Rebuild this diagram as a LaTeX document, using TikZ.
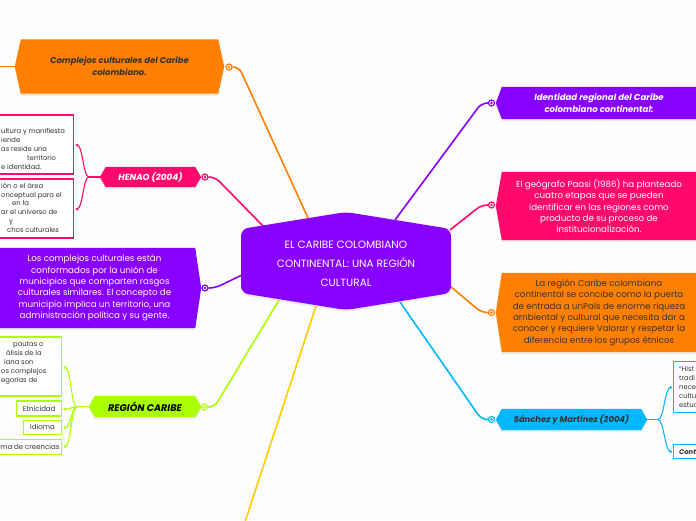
\documentclass[tikz,border=0pt]{standalone}
\usepackage{fontspec}
\setmainfont{Poppins}
\usepackage{tikz}
\usetikzlibrary{backgrounds, shadows}
\definecolor{mmpurple}{HTML}{8800FF}
\definecolor{mmpink}{HTML}{FF0A6C}
\definecolor{mmorange}{HTML}{FF8000}
\definecolor{mmlime}{HTML}{AAFF00}
\definecolor{mmyellow}{HTML}{FFCC00}
\definecolor{mmblue}{HTML}{00B8FF}
\definecolor{mmink}{HTML}{333333}
\definecolor{mmpaper}{HTML}{FDFDFD}

\newcommand{\hexfill}[2]{%
  \fill[#2, drop shadow={opacity=0.15, shadow xshift=0pt, shadow yshift=-2pt}]
    ([xshift=-6pt]#1.west) -- (#1.north west) -- (#1.north east)
    -- ([xshift=6pt]#1.east) -- (#1.south east) -- (#1.south west) -- cycle;}

\begin{document}
\begin{tikzpicture}[x=1pt, y=-1pt,
  font=\fontsize{8.7}{11.4}\selectfont,
  topic/.style={inner sep=0pt, align=center},
  knob/.style={circle, draw=#1, fill=white, line width=1.2pt, minimum size=6pt, inner sep=0pt,
    path picture={\fill[#1] (path picture bounding box.center) circle (1.3pt);}},
  joint/.style={circle, fill=#1, minimum size=3pt, inner sep=0pt},
  branch/.style={draw=#1, line width=1.6pt, rounded corners=6pt},
  twig/.style={draw=#1, line width=1.1pt},
  leaf/.style={draw=#1, fill=white, line width=1.1pt, inner sep=0pt, text=mmink, font=\fontsize{7}{8}\selectfont},
  leaftext/.style={inner sep=0pt, align=left, text=mmink, font=\fontsize{6.8}{8.9}\selectfont}
]
\useasboundingbox (0,0) rectangle (696,520);

\node[topic, text=white, font=\fontsize{10.6}{18.8}\selectfont] (root) at (346,263.8)
  {EL CARIBE COLOMBIANO\\CONTINENTAL: UNA REGIÓN\\CULTURAL};

% left side
\node[topic, minimum width=197pt, minimum height=54pt, text=mmink, font=\fontsize{8.4}{12}\selectfont\bfseries\itshape] (cmp) at (119.5,66.5)
  {Complejos culturales del Caribe\\colombiano.};
\node[topic, minimum width=89pt, minimum height=20pt, text=white, font=\fontsize{8.8}{10}\selectfont\bfseries\itshape] (hen) at (150.5,177)
  {HENAO (2004)};
\node[topic, minimum width=201pt, minimum height=80pt, text=white] (mun) at (94.5,288)
  {Los complejos culturales están\\conformados por la unión de\\municipios que comparten rasgos\\culturales similares. El concepto de\\municipio implica un territorio, una\\administración política y su gente.};
\node[topic, minimum width=100pt, minimum height=21pt, text=black, font=\fontsize{9.6}{10}\selectfont\bfseries\itshape] (reg) at (145,406.5)
  {REGIÓN CARIBE};

% right side
\node[topic, minimum width=194pt, minimum height=32pt, text=white, font=\fontsize{8.6}{11.6}\selectfont\bfseries\itshape] (ide) at (599,103)
  {Identidad regional del Caribe\\colombiano continental:};
\node[topic, minimum width=194pt, minimum height=68pt, text=white] (paa) at (599,206)
  {El geógrafo Paasi (1986) ha planteado\\cuatro etapas que se pueden\\identificar en las regiones como\\producto de su proceso de\\institucionalización.};
\node[topic, minimum width=194pt, minimum height=79pt, text=mmink] (rio) at (599,312.5)
  {La región Caribe colombiana\\continental se concibe como la puerta\\de entrada a unPaís de enorme riqueza\\ambiental y cultural que necesita dar a\\conocer y requiere Valorar y respetar la\\diferencia entre los grupos étnicos};
\node[topic, minimum width=139pt, minimum height=21pt, text=mmink, font=\fontsize{8.4}{10}\selectfont\bfseries\itshape] (san) at (571.5,419.5)
  {Sánchez y Martínez (2004)};

\node[knob=mmorange] (k-cmp) at (229,67) {};
\node[knob=mmpink] (k-hen) at (205,177) {};
\node[knob=mmpurple] (k-mun) at (205,288) {};
\node[knob=mmlime] (k-reg) at (204.5,407) {};
\node[knob=mmpurple] (k-ide) at (491.5,103) {};
\node[knob=mmpink] (k-paa) at (491.5,205) {};
\node[knob=mmorange] (k-rio) at (491.5,312.5) {};
\node[knob=mmblue] (k-san) at (491.5,419.5) {};

% leaves
\node[leaf=mmpink, minimum width=80pt, minimum height=59pt] (hen-a) at (33.3,144.5) {};
\node[leaftext, anchor=north west] (hen-at) at (1,128.3)
  {ultura y manifiesta\\iende\\as reside una\\\hspace*{26pt}territorio\\e identidad.};
\node[leaf=mmpink, minimum width=80pt, minimum height=59pt] (hen-b) at (33.3,208.5) {};
\node[leaftext, anchor=north west] (hen-bt) at (1,182.6)
  {ión o el área\\onceptual para el\\\hspace*{11pt}en la\\ar el universo de\\\hspace*{8pt}y\\\hspace*{6pt}chos culturales};
\node[leaf=mmlime, minimum width=68pt, minimum height=59pt] (reg-a) at (27.7,366.5) {};
\node[leaftext, anchor=north west] (reg-at) at (1,341.6)
  {\hspace*{12pt}pautas o\\\hspace*{5pt}álisis de la\\\hspace*{3pt}iana son\\os complejos\\egorías de};
\node[leaf=mmlime, minimum width=45pt, minimum height=15pt] (reg-b) at (39.2,408.5) {Etnicidad};
\node[leaf=mmlime, minimum width=38.4pt, minimum height=14.3pt] (reg-c) at (42.5,427.2) {Idioma};
\node[leaf=mmlime, minimum width=68pt, minimum height=14.7pt] (reg-d) at (27.7,446.7) {ema de creencias};
\node[leaf=mmblue, minimum width=34pt, minimum height=50.6pt] (san-a) at (690.3,387) {};
\node[leaftext, anchor=north west] (san-at) at (679,366.6)
  {``Hist\\tradi\\neces\\cultu\\estuc};
\node[leaf=mmblue, minimum width=34pt, minimum height=14pt] (san-b) at (690.3,451.3) {};
\node[leaftext, anchor=west, font=\fontsize{6.8}{8}\selectfont\bfseries\itshape] (san-bt) at (679,451.7) {Cont};

\node[joint=mmpink] (d-hen1) at (77,145) {};
\node[joint=mmpink] (d-hen2) at (77,209) {};
\node[joint=mmlime] (d-reg1) at (65,367.3) {};
\node[joint=mmlime] (d-reg2) at (65,409) {};
\node[joint=mmlime] (d-reg3) at (65,427.7) {};
\node[joint=mmlime] (d-reg4) at (65,446.7) {};
\node[joint=mmblue] (d-san1) at (670.7,387.3) {};
\node[joint=mmblue] (d-san2) at (670.7,451.7) {};

\coordinate (j-hen) at (89,177);
\coordinate (j-reg) at (77,407);
\coordinate (j-san) at (658,419.5);
\coordinate (cmp-end) at (-5,66.5);
\coordinate (low-end) at (243,528);
\coordinate (r-cmp) at (308,218);
\coordinate (r-hen) at (263,226);
\coordinate (r-mun) at (242,275);
\coordinate (r-reg) at (279,300);
\coordinate (r-low) at (316,306);
\coordinate (r-san) at (400,302);
\coordinate (r-rio) at (450,286);
\coordinate (r-paa) at (450,230);
\coordinate (r-ide) at (395,220);

\begin{scope}[on background layer]
\fill[mmpaper] (0,0) rectangle (696,520);
\draw[branch=mmorange] (r-cmp) -- ([xshift=10pt]k-cmp.center) -- (k-cmp);
\draw[branch=mmpink] (r-hen) -- ([xshift=10pt]k-hen.center) -- (k-hen);
\draw[branch=mmpurple] (r-mun) -- ([xshift=10pt]k-mun.center) -- (k-mun);
\draw[branch=mmlime] (r-reg) -- ([xshift=10pt]k-reg.center) -- (k-reg);
\draw[branch=mmyellow] (r-low) -- (low-end);
\draw[branch=mmblue] (r-san) -- ([xshift=-10pt]k-san.center) -- (k-san);
\draw[branch=mmorange] (r-rio) -- ([xshift=-10pt]k-rio.center) -- (k-rio);
\draw[branch=mmpink] (r-paa) -- ([xshift=-10pt]k-paa.center) -- (k-paa);
\draw[branch=mmpurple] (r-ide) -- ([xshift=-10pt]k-ide.center) -- (k-ide);

\draw[twig=mmorange] ([xshift=-6pt]cmp.west) -- (cmp-end);
\draw[twig=mmpink] ([xshift=-6pt]hen.west) -- (j-hen);
\foreach \dotname in {d-hen1, d-hen2}
  \draw[twig=mmpink] (j-hen) .. controls +(-6,0) and +(6,0) .. (\dotname.center);
\draw[twig=mmlime] ([xshift=-6pt]reg.west) -- (j-reg);
\foreach \dotname in {d-reg1, d-reg2, d-reg3, d-reg4}
  \draw[twig=mmlime] (j-reg) .. controls +(-6,0) and +(6,0) .. (\dotname.center);
\draw[twig=mmblue] ([xshift=6pt]san.east) -- (j-san);
\foreach \dotname in {d-san1, d-san2}
  \draw[twig=mmblue] (j-san) .. controls +(6,0) and +(-6,0) .. (\dotname.center);

\fill[mmpurple, rounded corners=7pt, drop shadow={opacity=0.15, shadow xshift=0pt, shadow yshift=-2pt}]
  (241,262) -- (241,229) -- (346,212) -- (451,229) -- (451,293) -- (346,310) -- (241,293) -- cycle;
\hexfill{cmp}{mmorange}
\hexfill{hen}{mmpink}
\hexfill{mun}{mmpurple}
\hexfill{reg}{mmlime}
\hexfill{ide}{mmpurple}
\hexfill{paa}{mmpink}
\hexfill{rio}{mmorange}
\hexfill{san}{mmblue}
\end{scope}
\end{tikzpicture}
\end{document}
